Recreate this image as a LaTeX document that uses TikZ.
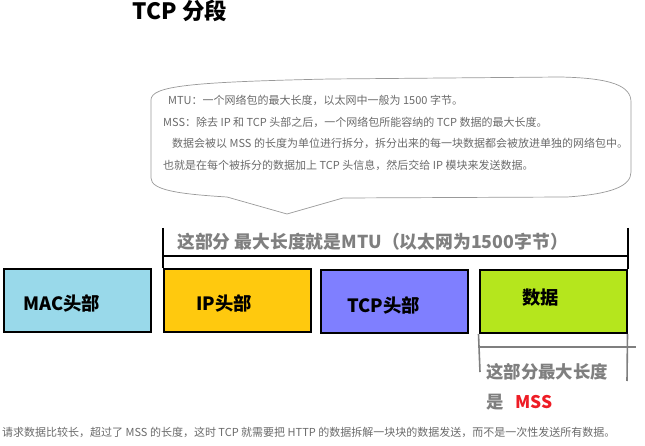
\documentclass[tikz,border=0pt]{standalone}
\usepackage{fontspec}
\setmainfont{Noto Sans CJK SC}
\usetikzlibrary{calc}
\definecolor{macblue}{HTML}{99D9EA}
\definecolor{ipgold}{HTML}{FFC90E}
\definecolor{tcpviolet}{HTML}{7F7FFF}
\definecolor{datalime}{HTML}{B5E61D}
\definecolor{labelgray}{HTML}{7F7F7F}
\definecolor{notegray}{HTML}{6A6A6A}
\definecolor{mssred}{HTML}{EE1C25}
\begin{document}
\begin{tikzpicture}[
    x=1pt, y=-1pt,
    seg/.style={draw=black, line width=2pt, minimum width=147pt, minimum height=63pt, inner sep=0pt},
    seglbl/.style={font=\bfseries\fontsize{18.3}{20}\selectfont, inner sep=0pt},
    graylbl/.style={font=\bfseries\fontsize{17.8}{20}\selectfont, text=labelgray, inner sep=0pt},
    note/.style={font=\fontsize{11}{21.5}\selectfont, text=notegray, inner sep=0pt},
    mtubar/.style={line width=2pt, black},
    mssbar/.style={line width=1.6pt, labelgray}
]
\useasboundingbox (0,0) rectangle (645,446);

\node[font=\bfseries\fontsize{22.5}{24}\selectfont, inner sep=0pt] (title) at (180,11) {TCP 分段};

% speech bubble
\draw[gray!80, line width=0.7pt] (151,100) .. controls (151,86) and (190,82) .. (330,79) -- (560,77)
    .. controls (612,78) and (631,86) .. (631,102) -- (631,172)
    .. controls (631,186) and (612,194) .. (567,197) -- (343,198) -- (287,214) -- (227,197)
    .. controls (178,194) and (151,190) .. (151,178) -- cycle;
\node[note, anchor=north west, align=left] (bubble) at (163,95)
    {\hspace{5pt}MTU：一个网络包的最大长度，以太网中一般为 1500 字节。\\
     MSS：除去 IP 和 TCP 头部之后，一个网络包所能容纳的 TCP 数据的最大长度。\\
     \hspace{9pt}数据会被以 MSS 的长度为单位进行拆分，拆分出来的每一块数据都会被放进单独的网络包中。\\
     也就是在每个被拆分的数据加上 TCP 头信息，然后交给 IP 模块来发送数据。};

% segments
\node[seg, fill=macblue]   (mac)  at (77.5,300.5) {};
\node[seg, fill=ipgold]    (ip)   at (237,300.5)  {};
\node[seg, fill=tcpviolet] (tcp)  at (394,301.5)  {};
\node[seg, fill=datalime]  (data) at (553,301.5)  {};

\node[seglbl] (maclbl)  at (61.5,303) {MAC头部};
\node[seglbl] (iplbl)   at (224,303)  {IP头部};
\node[seglbl] (tcplbl)  at (383.5,305) {TCP头部};
\node[seglbl] (datalbl) at (540.5,298) {数据};

% MTU range
\coordinate (mtuL) at (163,228);
\coordinate (mtuR) at (628,228);
\draw[mtubar] (mtuL) -- (mtuL |- ip.north);
\draw[mtubar] (mtuR) -- (mtuR |- data.north);
\draw[mtubar] ($(mtuL)+(0,28)$) -- ($(mtuR)+(0,28)$);
\node[graylbl, anchor=west] (mtulbl) at (177,242) {这部分 最大长度就是MTU（以太网为1500字节）};

% MSS range
\coordinate (mssL) at (480,372);
\coordinate (mssR) at (627,381);
\draw[mssbar] (data.south west) -- (mssL);
\draw[mssbar] (data.south east) -- (mssR);
\draw[mssbar] ($(data.south west)+(0,13)$) -- ($(data.south west)+(157,13)$);
\node[graylbl, anchor=north west, align=left, font=\bfseries\fontsize{17.4}{30}\selectfont] (msslbl) at (486,363)
    {这部分最大长度\\是\hspace{12pt}\textcolor{mssred}{MSS}};

\node[note, anchor=west] (bottom) at (2,432)
    {请求数据比较长，超过了 MSS 的长度，这时 TCP 就需要把 HTTP 的数据拆解一块块的数据发送，而不是一次性发送所有数据。};
\end{tikzpicture}
\end{document}
